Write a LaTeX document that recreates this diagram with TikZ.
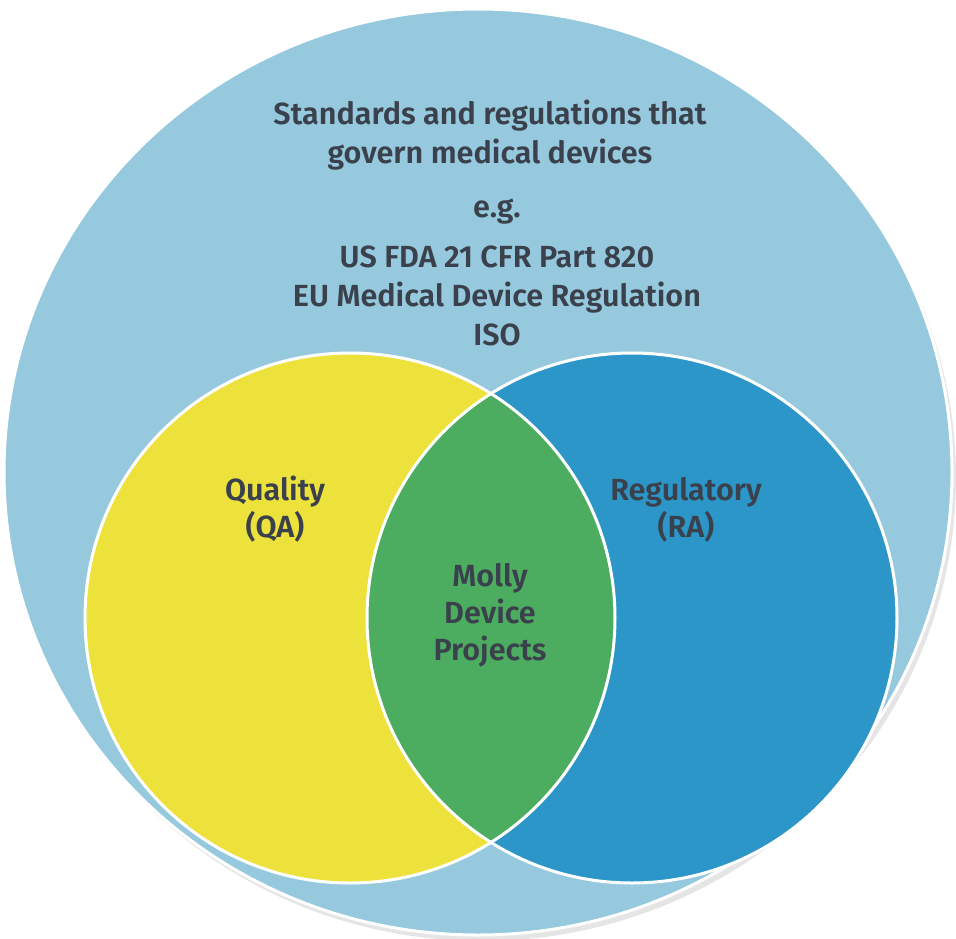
\documentclass[tikz,border=0pt]{standalone}
\usepackage{fontspec}
\setmainfont{Fira Sans}[BoldFont={Fira Sans SemiBold}]
\usetikzlibrary{calc}

\definecolor{outerblue}{HTML}{96C9DE}
\definecolor{qayellow}{HTML}{EDE13B}
\definecolor{rablue}{HTML}{2B96C7}
\definecolor{mollygreen}{HTML}{4CAC5F}
\definecolor{labelgray}{HTML}{3A414C}

\begin{document}
\begin{tikzpicture}[x=0.2mm,y=-0.2mm,
    venn/.style={draw=white,line width=0.6mm},
    txt/.style={text=labelgray,font=\bfseries\fontsize{17.4}{22}\selectfont,align=center,inner sep=0pt},
    settxt/.style={txt,font=\bfseries\fontsize{17.4}{21}\selectfont}]
    \useasboundingbox (0,0) rectangle (956,939);

    \begin{scope}[shift={(0,0)}]
      \coordinate(O) at (478,472);
      \coordinate(QA) at (350,618);
      \coordinate(RA) at (632,618);
      % outer set with a soft shadow
      \fill[black!10](O)++(4,6) ellipse [x radius=474,y radius=463];
      \filldraw[fill=outerblue,venn](O) ellipse [x radius=474,y radius=463];
      \fill[qayellow](QA) circle [radius=265];
      \fill[rablue](RA) circle [radius=265];
      \begin{scope}
        \clip(QA) circle [radius=265];
        \fill[mollygreen](RA) circle [radius=265];
      \end{scope}
      \draw[venn](QA) circle [radius=265];
      \draw[venn](RA) circle [radius=265];
    \end{scope}

    % anchor=base sits on the last line
    \node[txt,anchor=base](std) at (490,163) {Standards and regulations that\\govern medical devices};
    \node[txt,anchor=base](eg) at (497,217) {e.g.};
    \node[txt,anchor=base](regs) at (497,345) {US FDA 21 CFR Part 820\\EU Medical Device Regulation\\ISO};
    \node[settxt,anchor=base](qual) at (275,537) {Quality\\(QA)};
    \node[settxt,anchor=base](reg) at (686,537) {Regulatory\\(RA)};
    \node[settxt,anchor=base](molly) at (490,660) {Molly\\Device\\Projects};
  \end{tikzpicture}
\end{document}
